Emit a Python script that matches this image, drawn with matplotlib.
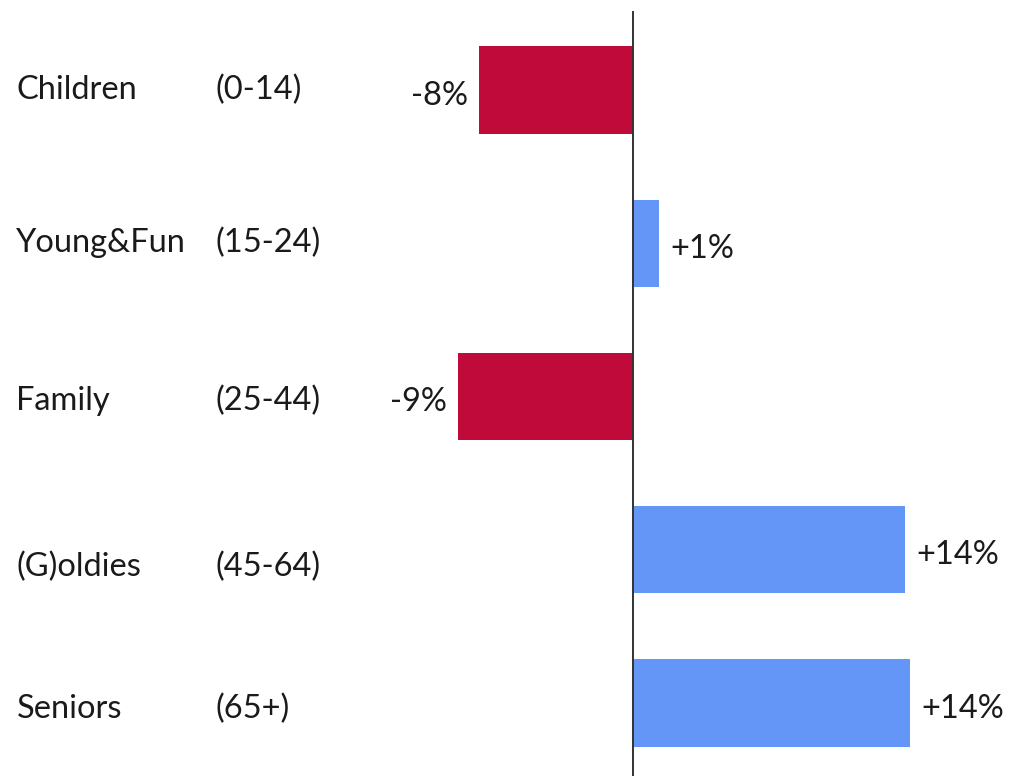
import matplotlib
matplotlib.use("Agg")
import matplotlib.pyplot as plt

groups = ["Children", "Young&Fun", "Family", "(G)oldies", "Seniors"]
ages = ["(0-14)", "(15-24)", "(25-44)", "(45-64)", "(65+)"]
changes = [-8.0, 1.35, -9.05, 14.1, 14.35]

RED = "#C00A3A"
BLUE = "#6496F8"

plt.rcParams['font.family'] = ['Lato', 'DejaVu Sans']

fig = plt.figure(figsize=(10.24, 7.76), dpi=100)
ax = fig.add_axes([0, 0, 1, 1])
ax.set_xlim(-32.8, 20.26)
ax.set_ylim(4.476, -0.587)
ax.axis("off")

ypos = list(range(len(groups)))
colors = [RED if v < 0 else BLUE for v in changes]
ax.barh(ypos, changes, height=0.57, color=colors, zorder=2)

ax.plot([0, 0], [-0.51, 4.476], color="#333333", lw=1.4, zorder=3)

# small vertical nudges (points) of the row labels as in the original slide
cat_nudge = [0, 0, -3, -12, -4]
val_nudge = -4

fs = 23.5
for y, g, a, v, dn in zip(ypos, groups, ages, changes, cat_nudge):
    ax.annotate(g, (0.016, y), xycoords=ax.get_yaxis_transform(),
                xytext=(0, dn), textcoords="offset points", ha="left",
                va="center", fontsize=fs, color="#1a1a1a")
    ax.annotate(a, (0.21, y), xycoords=ax.get_yaxis_transform(),
                xytext=(0, dn), textcoords="offset points", ha="left",
                va="center", fontsize=fs, color="#1a1a1a")
    lab = f"{v:+.0f}%"
    if v < 0:
        ax.annotate(lab, (v, y), xytext=(-8, val_nudge), textcoords="offset points",
                    ha="right", va="center", fontsize=fs, color="#1a1a1a")
    else:
        ax.annotate(lab, (v, y), xytext=(8, val_nudge), textcoords="offset points",
                    ha="left", va="center", fontsize=fs, color="#1a1a1a")

fig.savefig("out.png", dpi=100)
